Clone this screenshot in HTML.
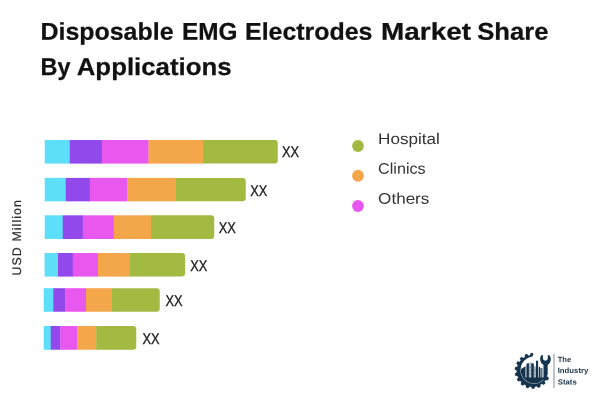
<!DOCTYPE html>
<html lang="en"><head><meta charset="utf-8"><title>Disposable EMG Electrodes Market Share By Applications</title>
<style>
html,body{margin:0;padding:0;background:#fff;}
body{width:600px;height:400px;overflow:hidden;font-family:"Liberation Sans",sans-serif;}
svg{display:block;text-rendering:geometricPrecision}
.t{font-family:"Liberation Sans",sans-serif;font-weight:700;font-size:24.3px;fill:#111;stroke:#111;stroke-width:0.25px}
.l{font-family:"Liberation Sans",sans-serif;font-size:15.4px;fill:#333}
.v{font-family:"Liberation Sans",sans-serif;font-size:15.5px;fill:#1a1a1a;stroke:#1a1a1a;stroke-width:0.3px}
.y{font-family:"Liberation Sans",sans-serif;font-size:12.4px;fill:#2a2a2a;stroke:#2a2a2a;stroke-width:0.2px}
.g{font-family:"Liberation Sans",sans-serif;font-weight:700;font-size:7.5px;fill:#1b3349}
</style></head><body>
<svg width="600" height="400" viewBox="0 0 600 400">
<rect width="600" height="400" fill="#fff"/>
<text class="t" transform="translate(40.50 39.80) rotate(0.03)" textLength="133.00" lengthAdjust="spacingAndGlyphs">Disposable</text>
<text class="t" transform="translate(182.00 39.80) rotate(0.03)" textLength="55.50" lengthAdjust="spacingAndGlyphs">EMG</text>
<text class="t" transform="translate(245.00 39.80) rotate(0.03)" textLength="127.50" lengthAdjust="spacingAndGlyphs">Electrodes</text>
<text class="t" transform="translate(381.00 39.80) rotate(0.03)" textLength="90.00" lengthAdjust="spacingAndGlyphs">Market</text>
<text class="t" transform="translate(477.25 39.80) rotate(0.03)" textLength="71.25" lengthAdjust="spacingAndGlyphs">Share</text>
<text class="t" transform="translate(40.50 75.00) rotate(0.03)" textLength="30.00" lengthAdjust="spacingAndGlyphs">By</text>
<text class="t" transform="translate(76.75 75.00) rotate(0.03)" textLength="154.75" lengthAdjust="spacingAndGlyphs">Applications</text>
<rect x="44.7" y="140.0" width="25.35" height="23.60" fill="#5DDEF9"/>
<rect x="69.75" y="140.0" width="32.45" height="23.60" fill="#9149EB"/>
<rect x="101.9" y="140.0" width="46.90" height="23.60" fill="#E958EE"/>
<rect x="148.5" y="140.0" width="54.80" height="23.60" fill="#F4A64B"/>
<path d="M203.0 140.0H274.75Q277.75 140.0 277.75 143.0V160.6Q277.75 163.6 274.75 163.6H203.0Z" fill="#A2BA41"/>
<rect x="44.7" y="177.9" width="21.35" height="23.45" fill="#5DDEF9"/>
<rect x="65.75" y="177.9" width="24.30" height="23.45" fill="#9149EB"/>
<rect x="89.75" y="177.9" width="37.80" height="23.45" fill="#E958EE"/>
<rect x="127.25" y="177.9" width="49.05" height="23.45" fill="#F4A64B"/>
<path d="M176.0 177.9H242.75Q245.75 177.9 245.75 180.9V198.35Q245.75 201.35 242.75 201.35H176.0Z" fill="#A2BA41"/>
<rect x="44.7" y="215.3" width="18.35" height="23.70" fill="#5DDEF9"/>
<rect x="62.75" y="215.3" width="20.30" height="23.70" fill="#9149EB"/>
<rect x="82.75" y="215.3" width="31.30" height="23.70" fill="#E958EE"/>
<rect x="113.75" y="215.3" width="37.55" height="23.70" fill="#F4A64B"/>
<path d="M151.0 215.3H211.25Q214.25 215.3 214.25 218.3V236.0Q214.25 239.0 211.25 239.0H151.0Z" fill="#A2BA41"/>
<rect x="44.6" y="253.0" width="13.70" height="23.60" fill="#5DDEF9"/>
<rect x="58.0" y="253.0" width="15.05" height="23.60" fill="#9149EB"/>
<rect x="72.75" y="253.0" width="25.55" height="23.60" fill="#E958EE"/>
<rect x="98.0" y="253.0" width="31.55" height="23.60" fill="#F4A64B"/>
<path d="M129.25 253.0H182.0Q185.0 253.0 185.0 256.0V273.6Q185.0 276.6 182.0 276.6H129.25Z" fill="#A2BA41"/>
<rect x="43.75" y="288.2" width="9.80" height="23.55" fill="#5DDEF9"/>
<rect x="53.25" y="288.2" width="12.30" height="23.55" fill="#9149EB"/>
<rect x="65.25" y="288.2" width="21.05" height="23.55" fill="#E958EE"/>
<rect x="86.0" y="288.2" width="26.30" height="23.55" fill="#F4A64B"/>
<path d="M112.0 288.2H156.75Q159.75 288.2 159.75 291.2V308.75Q159.75 311.75 156.75 311.75H112.0Z" fill="#A2BA41"/>
<rect x="43.75" y="326.0" width="7.30" height="23.75" fill="#5DDEF9"/>
<rect x="50.75" y="326.0" width="9.80" height="23.75" fill="#9149EB"/>
<rect x="60.25" y="326.0" width="17.05" height="23.75" fill="#E958EE"/>
<rect x="77.0" y="326.0" width="19.55" height="23.75" fill="#F4A64B"/>
<path d="M96.25 326.0H133.25Q136.25 326.0 136.25 329.0V346.75Q136.25 349.75 133.25 349.75H96.25Z" fill="#A2BA41"/>
<text class="v" transform="translate(282.00 156.90) rotate(0.03)" textLength="17.10" lengthAdjust="spacingAndGlyphs">XX</text>
<text class="v" transform="translate(250.20 195.50) rotate(0.03)" textLength="17.10" lengthAdjust="spacingAndGlyphs">XX</text>
<text class="v" transform="translate(218.70 233.00) rotate(0.03)" textLength="17.10" lengthAdjust="spacingAndGlyphs">XX</text>
<text class="v" transform="translate(190.20 270.70) rotate(0.03)" textLength="17.10" lengthAdjust="spacingAndGlyphs">XX</text>
<text class="v" transform="translate(165.45 305.75) rotate(0.03)" textLength="17.10" lengthAdjust="spacingAndGlyphs">XX</text>
<text class="v" transform="translate(142.45 344.00) rotate(0.03)" textLength="17.10" lengthAdjust="spacingAndGlyphs">XX</text>
<text class="y" transform="translate(21 275.5) rotate(-90)" textLength="75.5" lengthAdjust="spacing">USD Million</text>
<circle cx="358" cy="146.0" r="5.9" fill="#A2BA41"/>
<text class="l" transform="translate(378.10 144.00) rotate(0.03)" textLength="61.75" lengthAdjust="spacingAndGlyphs">Hospital</text>
<circle cx="358" cy="175.75" r="5.9" fill="#F4A64B"/>
<text class="l" transform="translate(378.10 173.70) rotate(0.03)" textLength="47.50" lengthAdjust="spacingAndGlyphs">Clinics</text>
<circle cx="358" cy="206.0" r="5.9" fill="#E958EE"/>
<text class="l" transform="translate(378.10 203.70) rotate(0.03)" textLength="51.25" lengthAdjust="spacingAndGlyphs">Others</text>
<g id="logo">
<g transform="translate(512 350) scale(0.1)">
<mask id="gm"><rect x="0" y="0" width="420" height="400" fill="#fff"/><circle cx="221" cy="202" r="136" fill="#000"/><rect x="206" y="0" width="214" height="150" fill="#000"/><rect x="330" y="0" width="90" height="262" fill="#000"/></mask>
<path d="M353.3 266.1L368.1 282.5L357.6 302.3L335.7 299.2A158 158 0 0 1 324.9 313.1L324.9 313.1L333.2 333.5L316.6 348.5L297.1 338.1A158 158 0 0 1 282.1 347.5L282.1 347.5L282.9 369.5L262.2 377.9L247.4 361.5A158 158 0 0 1 230.2 365.1L230.2 365.1L223.4 386.2L201.0 386.9L192.8 366.4A158 158 0 0 1 175.3 364.0L175.3 364.0L161.7 381.4L140.5 374.5L139.7 352.4A158 158 0 0 1 124.2 344.1L124.2 344.1L105.4 355.9L87.8 342.1L94.7 321.1A158 158 0 0 1 82.9 308.0L82.9 308.0L61.3 312.6L49.4 293.7L63.0 276.3A158 158 0 0 1 56.4 259.9L56.4 259.9L34.6 256.9L29.9 235.0L48.7 223.3A158 158 0 0 1 48.0 205.7L48.0 205.7L28.5 195.3L31.6 173.2L53.2 168.6A158 158 0 0 1 58.7 151.9L58.7 151.9L43.9 135.5L54.4 115.7L76.3 118.8A158 158 0 0 1 87.1 104.9L87.1 104.9L78.8 84.5L95.4 69.5L114.9 79.9A158 158 0 0 1 129.9 70.5L129.9 70.5L129.1 48.5L149.8 40.1L164.6 56.5A158 158 0 0 1 181.8 52.9L181.8 52.9L188.6 31.8L211.0 31.1L219.2 51.6A158 158 0 0 1 236.7 54.0A158 158 0 0 1 287.8 73.9A158 158 0 0 1 329.1 110.0A158 158 0 0 1 355.6 158.1A158 158 0 0 1 364.0 212.3A158 158 0 0 1 353.3 266.1Z" fill="#15334c" stroke="#15334c" stroke-width="3" stroke-linejoin="round" mask="url(#gm)"/>
<circle cx="200" cy="43" r="12" fill="#15334c"/>
<clipPath id="bc"><circle cx="221" cy="202" r="132.5"/></clipPath>
<g clip-path="url(#bc)" fill="#15334c">
<path d="M60 212L130 165V280H60Z"/>
<rect x="131" y="162" width="16" height="118" fill="#7f919f"/>
<path d="M146 140Q182 112 218 140V280H146Z" fill="#b4bfc8"/>
<rect x="146" y="135" width="23" height="145"/>
<rect x="193" y="135" width="25" height="145"/>
<g fill="#5f788a"><rect x="170" y="170" width="22" height="5"/><rect x="170" y="200" width="22" height="5"/><rect x="170" y="230" width="22" height="5"/></g>
<rect x="219" y="162" width="21" height="118" fill="#aab6bf"/>
<g fill="#5f788a"><rect x="219" y="190" width="21" height="5"/><rect x="219" y="215" width="21" height="5"/><rect x="219" y="240" width="21" height="5"/></g>
<rect x="240" y="107" width="21" height="173"/>
<rect x="261" y="175" width="9" height="105" fill="#aab6bf"/>
<rect x="270" y="168" width="11" height="112"/>
<rect x="282" y="180" width="24" height="100" fill="#5f788a"/>
<rect x="40" y="275" width="330" height="100"/>
</g>
<path d="M290 54L309 50V83A24.5 24.5 0 0 0 358 83V50L377 54Q391 75 387 102Q382 137 357 150V246A140.5 140.5 0 0 1 315 306V150Q287 137 282 102Q279 75 290 54Z" fill="#15334c"/>
</g>
<rect x="553.2" y="354" width="1.6" height="34" fill="#b3babf"/>
<text class="g" transform="translate(557.70 361.90) rotate(0.03)" textLength="13.40" lengthAdjust="spacingAndGlyphs">The</text>
<text class="g" transform="translate(557.70 373.00) rotate(0.03)" textLength="30.60" lengthAdjust="spacingAndGlyphs">Industry</text>
<text class="g" transform="translate(557.70 384.50) rotate(0.03)" textLength="19.00" lengthAdjust="spacingAndGlyphs">Stats</text>
</g>
</svg></body></html>
